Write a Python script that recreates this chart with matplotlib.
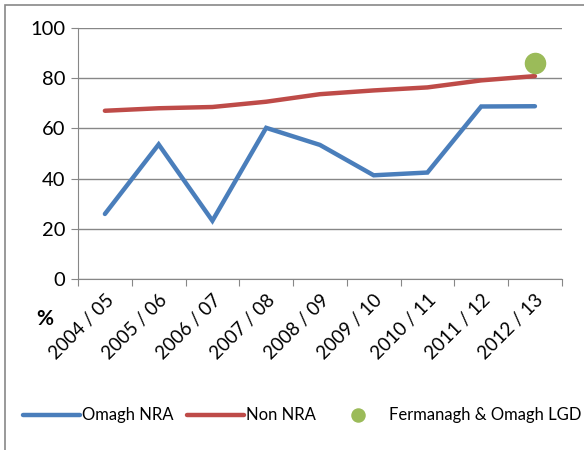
import numpy as np
import matplotlib.pyplot as plt
from matplotlib.patches import Rectangle
from matplotlib.transforms import ScaledTranslation

# data
years = ['2004 / 05', '2005 / 06', '2006 / 07', '2007 / 08', '2008 / 09',
         '2009 / 10', '2010 / 11', '2011 / 12', '2012 / 13']
omagh_nra = [25.9, 53.6, 23.2, 60.2, 53.4, 41.3, 42.4, 68.7, 68.8]
non_nra = [67.0, 68.0, 68.5, 70.6, 73.6, 75.1, 76.3, 79.1, 80.8]
lgd_value = [86.0]

plt.rcParams['font.family'] = ['Lato', 'DejaVu Sans']

fig = plt.figure(figsize=(5.84, 4.5), dpi=100)
ax = fig.add_axes([0.1336, 0.38, 0.8284, 0.558])

x = np.arange(len(years))
ax.plot(x, omagh_nra, color='#4a7ebb', lw=3.2, solid_capstyle='round',
        solid_joinstyle='miter', label='Omagh NRA', zorder=3)
ax.plot(x, non_nra, color='#be4b48', lw=3.2, solid_capstyle='round',
        label='Non NRA', zorder=3)
ax.plot([x[-1]], lgd_value, 'o', color='#9bbb59', ms=14.5, ls='none',
        label='Fermanagh & Omagh LGD', zorder=4)

ax.set_xlim(-0.5, len(years) - 0.5)
ax.set_ylim(0, 100)
ax.set_yticks([0, 20, 40, 60, 80, 100])
ax.yaxis.grid(True, color='#878787', lw=1)
ax.set_axisbelow(True)

ax.set_xticks(np.arange(-0.5, len(years), 1))
ax.set_xticklabels([])
ax.set_xticks(x, minor=True)
ax.set_xticklabels(years, minor=True, rotation=45, ha='right',
                   rotation_mode='anchor', fontsize=13.5)
shift = ScaledTranslation(6 / 100, 0, fig.dpi_scale_trans)
for lab in ax.get_xticklabels(minor=True):
    lab.set_transform(lab.get_transform() + shift)
ax.tick_params(axis='x', which='minor', length=0, pad=9)
ax.tick_params(axis='x', which='major', length=5, color='#878787')
ax.tick_params(axis='y', length=5, color='#878787', labelsize=14.5, pad=4)

for s in ['top', 'right']:
    ax.spines[s].set_visible(False)
for s in ['left', 'bottom']:
    ax.spines[s].set_color('#878787')

fig.text(0.077, 0.292, '%', fontsize=15, fontweight='bold', ha='center', va='center')

leg = fig.legend(loc='center', bbox_to_anchor=(0.517, 0.077), ncol=3, frameon=False,
                 fontsize=12, handlelength=3.4, handletextpad=0.15,
                 columnspacing=0.8, markerscale=0.65)

# chart border
fig.patches.append(Rectangle((0.009, -0.1), 1.2, 1.089, transform=fig.transFigure,
                             fill=False, edgecolor='#878787', lw=1.2))

fig.savefig('out.png', dpi=100)
